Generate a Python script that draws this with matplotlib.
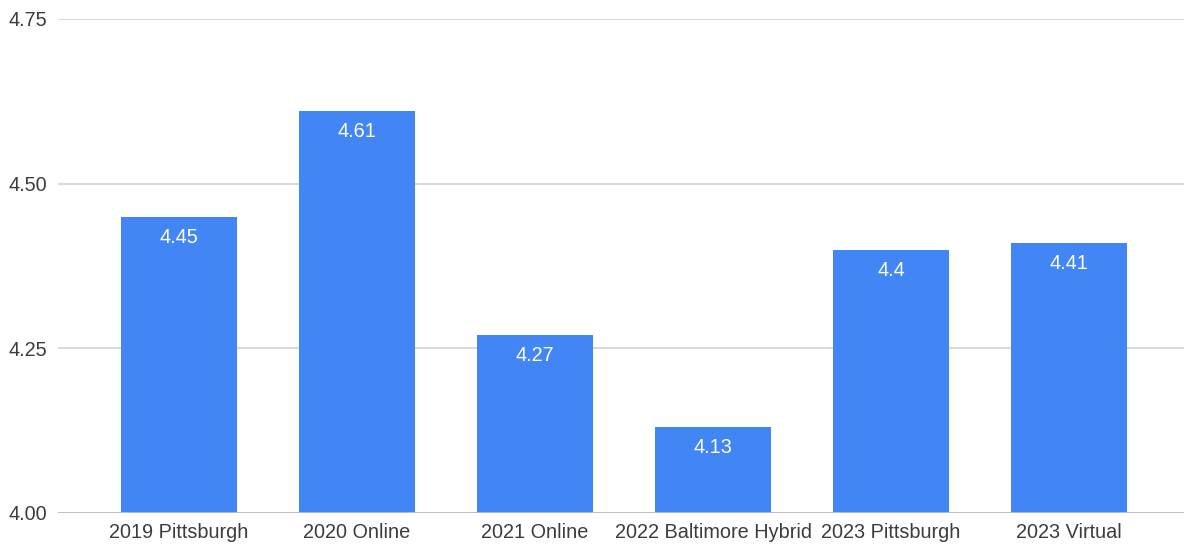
import matplotlib
matplotlib.use("Agg")
import matplotlib.pyplot as plt

categories = ["2019 Pittsburgh", "2020 Online", "2021 Online", "2022 Baltimore Hybrid", "2023 Pittsburgh", "2023 Virtual"]
values = [4.45, 4.61, 4.27, 4.13, 4.40, 4.41]
value_labels = ["4.45", "4.61", "4.27", "4.13", "4.4", "4.41"]
yticks = [4.00, 4.25, 4.50, 4.75]
ytick_labels = ["4.00", "4.25", "4.50", "4.75"]

plt.rcParams['font.family'] = ['Liberation Sans', 'DejaVu Sans']

W, H = 1184, 548
fig = plt.figure(figsize=(W / 100, H / 100), dpi=100)
ax = fig.add_axes([58 / W, (H - 513) / H, (W - 58) / W, (513 - 19) / H])

x = list(range(len(categories)))
bars = ax.bar(x, values, width=0.652, color="#4285F4", zorder=3, bottom=0)
ax.set_ylim(4.0, 4.75)
ax.set_xlim(-0.68, 5.645)

for xi, v, lab in zip(x, values, value_labels):
    ax.annotate(lab, (xi, v), xytext=(0, -8), textcoords="offset points",
                ha="center", va="top", color="white", fontsize=14.3)

ax.set_yticks(yticks)
ax.set_yticklabels(ytick_labels)
ax.set_xticks(x)
ax.set_xticklabels(categories)
ax.tick_params(axis="both", length=0, labelsize=14.3, labelcolor="#3c3c3c")
ax.tick_params(axis="x", pad=7)
ax.tick_params(axis="y", pad=8)
ax.grid(axis="y", color="#d6d6d6", linewidth=1.3, zorder=0)
for s in ax.spines.values():
    s.set_visible(False)
ax.axhline(4.0, color="#bdbdbd", linewidth=1.3, zorder=4)

fig.savefig("out.png", dpi=100)
